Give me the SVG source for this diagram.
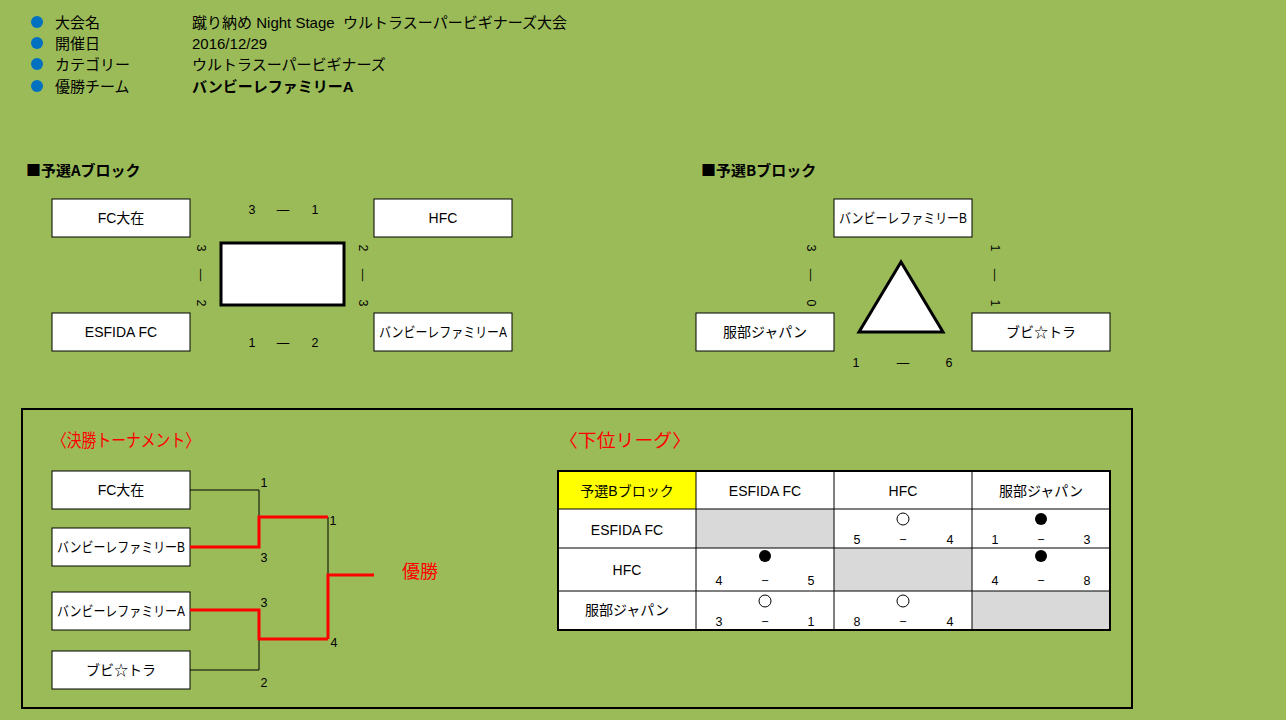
<svg xmlns="http://www.w3.org/2000/svg" width="1286" height="720" viewBox="0 0 1286 720">
<style>
text{font-family:"Liberation Sans","Noto Sans CJK JP",sans-serif;fill:#000}
.t{font-size:15px}
.h{font-family:"Noto Sans CJK JP","Liberation Sans",sans-serif;font-size:15px;font-weight:bold}
.b{font-size:14px;text-anchor:middle;dominant-baseline:central}
.s{font-size:12.5px;text-anchor:middle;dominant-baseline:central}
.box{fill:#fff;stroke:#000;stroke-width:1}
.bold{font-weight:bold}
.red{fill:#FF0000;font-size:18px}
.ln{fill:none;stroke:#000;stroke-width:1}
.rl{fill:none;stroke:#FF0000;stroke-width:3}
.cell{stroke:#000;stroke-width:1}
</style>
<rect width="1286" height="720" fill="#9BBB59"/>

<g id="header">
<circle cx="37" cy="22" r="6" fill="#0070C0"/>
<circle cx="37" cy="43" r="6" fill="#0070C0"/>
<circle cx="37" cy="64" r="6" fill="#0070C0"/>
<circle cx="37" cy="86" r="6" fill="#0070C0"/>
<text class="t" x="55" y="28">大会名</text>
<text class="t" x="55" y="49">開催日</text>
<text class="t" x="55" y="70">カテゴリー</text>
<text class="t" x="55" y="92">優勝チーム</text>
<text class="t" x="192" y="28" xml:space="preserve" textLength="375" lengthAdjust="spacingAndGlyphs">蹴り納め Night Stage  ウルトラスーパービギナーズ大会</text>
<text class="t" x="192" y="49">2016/12/29</text>
<text class="t" x="192" y="70">ウルトラスーパービギナーズ</text>
<text class="t bold" x="192" y="92">バンビーレファミリーA</text>
</g>

<g id="blockA">
<text class="h" x="26" y="176">■予選Aブロック</text>
<rect x="221" y="243" width="123" height="62" fill="#fff" stroke="#000" stroke-width="3"/>
</g>
<g id="a-fcoozai"><rect class="box" x="52" y="199" width="138" height="38"/><text class="b" x="121" y="218">FC大在</text></g>
<g id="a-hfc"><rect class="box" x="374" y="199" width="138" height="38"/><text class="b" x="443" y="218">HFC</text></g>
<g id="a-esfida"><rect class="box" x="52" y="313" width="138" height="38"/><text class="b" x="121" y="332">ESFIDA FC</text></g>
<g id="a-bambi"><rect class="box" x="374" y="313" width="138" height="38"/><text class="b" x="443" y="332" textLength="128" lengthAdjust="spacingAndGlyphs">バンビーレファミリーA</text></g>
<g id="a-scores">
<text class="s" x="252" y="210">3</text><text class="s" x="283" y="210">—</text><text class="s" x="315" y="210">1</text>
<text class="s" x="252" y="343">1</text><text class="s" x="283" y="343">—</text><text class="s" x="315" y="343">2</text>
<text class="s" transform="translate(201,248) rotate(90)">3</text>
<text class="s" transform="translate(201,275) rotate(90)">—</text>
<text class="s" transform="translate(201,303) rotate(90)">2</text>
<text class="s" transform="translate(363,248) rotate(90)">2</text>
<text class="s" transform="translate(363,275) rotate(90)">—</text>
<text class="s" transform="translate(363,303) rotate(90)">3</text>
</g>

<g id="blockB">
<text class="h" x="701" y="176">■予選Bブロック</text>
<polygon points="901,262 859,332 943,332" fill="#fff" stroke="#000" stroke-width="3" stroke-linejoin="miter"/>
</g>
<g id="b-bambi"><rect class="box" x="834" y="199" width="138" height="38"/><text class="b" x="903" y="218" textLength="128" lengthAdjust="spacingAndGlyphs">バンビーレファミリーB</text></g>
<g id="b-hattori"><rect class="box" x="696" y="313" width="138" height="38"/><text class="b" x="765" y="332">服部ジャパン</text></g>
<g id="b-bubi"><rect class="box" x="972" y="313" width="138" height="38"/><text class="b" x="1041" y="332">ブビ☆トラ</text></g>
<g id="b-scores">
<text class="s" transform="translate(811,248) rotate(90)">3</text>
<text class="s" transform="translate(811,275) rotate(90)">—</text>
<text class="s" transform="translate(811,303) rotate(90)">0</text>
<text class="s" transform="translate(995,248) rotate(90)">1</text>
<text class="s" transform="translate(995,275) rotate(90)">—</text>
<text class="s" transform="translate(995,303) rotate(90)">1</text>
<text class="s" x="856" y="363">1</text><text class="s" x="903" y="363">—</text><text class="s" x="949" y="363">6</text>
</g>

<rect id="frame" x="22" y="409" width="1110" height="299" fill="none" stroke="#000" stroke-width="2"/>

<g id="tournament">
<text class="red" x="52" y="447" textLength="148" lengthAdjust="spacingAndGlyphs">〈決勝トーナメント〉</text>
<text class="red" x="402" y="578">優勝</text>
</g>
<g id="t-fcoozai"><rect class="box" x="52" y="471" width="138" height="38"/><text class="b" x="121" y="490">FC大在</text></g>
<g id="t-bambiB"><rect class="box" x="52" y="528" width="138" height="38"/><text class="b" x="121" y="547" textLength="128" lengthAdjust="spacingAndGlyphs">バンビーレファミリーB</text></g>
<g id="t-bambiA"><rect class="box" x="52" y="592" width="138" height="38"/><text class="b" x="121" y="611" textLength="128" lengthAdjust="spacingAndGlyphs">バンビーレファミリーA</text></g>
<g id="t-bubi"><rect class="box" x="52" y="651" width="138" height="38"/><text class="b" x="121" y="670">ブビ☆トラ</text></g>
<g id="connectors">
<polyline class="ln" points="190,490 259,490 259,517"/>
<polyline class="ln" points="190,670 259,670 259,639"/>
<polyline class="ln" points="328,517 328,575"/>
<polyline class="rl" points="190,547 259,547 259,517 328,517"/>
<polyline class="rl" points="190,610 259,610 259,639 328,639"/>
<polyline class="rl" points="328,639 328,575 374,575"/>
</g>
<g id="t-scores">
<text class="s" x="264" y="483">1</text>
<text class="s" x="264" y="558">3</text>
<text class="s" x="333" y="521">1</text>
<text class="s" x="264" y="603">3</text>
<text class="s" x="334" y="643">4</text>
<text class="s" x="264" y="683">2</text>
</g>

<g id="league">
<text class="red" x="559" y="447" textLength="132" lengthAdjust="spacingAndGlyphs">〈下位リーグ〉</text>
<rect x="558" y="471" width="138" height="38" fill="#FFFF00"/>
<rect x="696" y="471" width="414" height="38" fill="#fff"/>
<rect x="558" y="509" width="552" height="121" fill="#fff"/>
<rect x="696" y="509" width="138" height="39" fill="#D9D9D9"/>
<rect x="834" y="548" width="138" height="43" fill="#D9D9D9"/>
<rect x="972" y="591" width="138" height="39" fill="#D9D9D9"/>
<path class="cell" d="M696,471V630M834,471V630M972,471V630M558,509H1110M558,548H1110M558,591H1110" fill="none"/>
<rect x="558" y="471" width="552" height="159" fill="none" stroke="#000" stroke-width="2"/>
<text class="b" x="627" y="491">予選Bブロック</text>
<text class="b" x="765" y="491">ESFIDA FC</text>
<text class="b" x="903" y="491">HFC</text>
<text class="b" x="1041" y="491">服部ジャパン</text>
<text class="b" x="627" y="530">ESFIDA FC</text>
<text class="b" x="627" y="570">HFC</text>
<text class="b" x="627" y="610">服部ジャパン</text>
<circle cx="903" cy="519" r="6" fill="#fff" stroke="#000"/>
<circle cx="1041" cy="519" r="6" fill="#000"/>
<circle cx="765" cy="556" r="6" fill="#000"/>
<circle cx="1041" cy="556" r="6" fill="#000"/>
<circle cx="765" cy="601" r="6" fill="#fff" stroke="#000"/>
<circle cx="903" cy="601" r="6" fill="#fff" stroke="#000"/>
<text class="s" x="857" y="540">5</text><text class="s" x="903" y="540">−</text><text class="s" x="950" y="540">4</text>
<text class="s" x="995" y="540">1</text><text class="s" x="1041" y="540">−</text><text class="s" x="1087" y="540">3</text>
<text class="s" x="719" y="581">4</text><text class="s" x="765" y="581">−</text><text class="s" x="811" y="581">5</text>
<text class="s" x="995" y="581">4</text><text class="s" x="1041" y="581">−</text><text class="s" x="1087" y="581">8</text>
<text class="s" x="719" y="622">3</text><text class="s" x="765" y="622">−</text><text class="s" x="811" y="622">1</text>
<text class="s" x="857" y="622">8</text><text class="s" x="903" y="622">−</text><text class="s" x="950" y="622">4</text>
</g>
</svg>
